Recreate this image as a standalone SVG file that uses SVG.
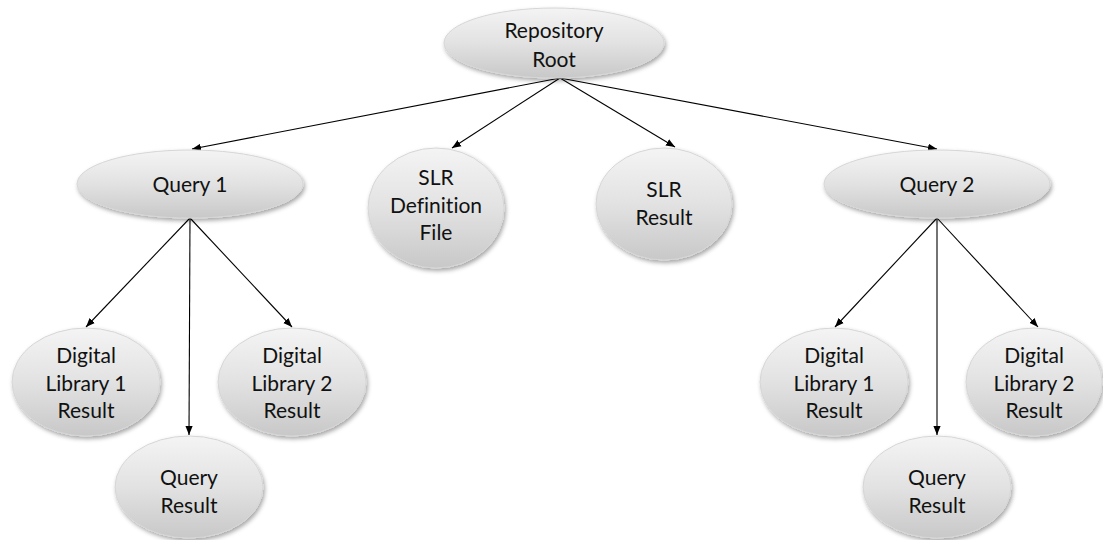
<svg xmlns="http://www.w3.org/2000/svg" width="1103" height="540" viewBox="0 0 1103 540">
  <defs>
    <linearGradient id="nodeFill" x1="0" y1="0" x2="0" y2="1">
      <stop offset="0" stop-color="#f4f4f4"/>
      <stop offset="0.5" stop-color="#e2e2e2"/>
      <stop offset="1" stop-color="#c8c8c8"/>
    </linearGradient>
    <filter id="shadow" x="-20%" y="-20%" width="140%" height="150%">
      <feDropShadow dx="1.5" dy="2.5" stdDeviation="2" flood-color="#000" flood-opacity="0.35"/>
    </filter>
    <marker id="arrow" viewBox="0 0 10 10" refX="10" refY="5" markerWidth="9" markerHeight="9" markerUnits="userSpaceOnUse" orient="auto">
      <path d="M0,1 L10,5 L0,9 Z" fill="#000"/>
    </marker>
  </defs>
  <style>
    .node ellipse { fill: url(#nodeFill); stroke: #d6d6d6; stroke-width: 1; filter: url(#shadow); }
    .node text { font-family: Lato, "Open Sans", "Liberation Sans", sans-serif; font-size: 21px; fill: #111; text-anchor: middle; font-variant-ligatures: none; }
    .edges line { stroke: #000; stroke-width: 1.1; marker-end: url(#arrow); }
  </style>

  <rect width="1103" height="540" fill="#fff"/>

  <g class="edges">
    <line x1="560" y1="78" x2="192" y2="149"/>
    <line x1="560" y1="78" x2="452" y2="148"/>
    <line x1="560" y1="78" x2="675" y2="147"/>
    <line x1="560" y1="78" x2="937" y2="149"/>
    <line x1="190" y1="218" x2="86" y2="327"/>
    <line x1="190" y1="218" x2="189" y2="435"/>
    <line x1="190" y1="218" x2="292" y2="327"/>
    <line x1="937" y1="218" x2="835" y2="327"/>
    <line x1="937" y1="218" x2="937" y2="435"/>
    <line x1="937" y1="218" x2="1038" y2="327"/>
  </g>

  <g id="root" class="node">
    <ellipse cx="554" cy="43" rx="110" ry="35"/>
    <text x="554" y="38">Repository</text>
    <text x="554" y="67">Root</text>
  </g>

  <g id="query1" class="node">
    <ellipse cx="190" cy="184" rx="113" ry="34"/>
    <text x="190" y="192">Query 1</text>
  </g>

  <g id="slr-definition" class="node">
    <ellipse cx="436" cy="208" rx="68" ry="60"/>
    <text x="436" y="185">SLR</text>
    <text x="436" y="213">Definition</text>
    <text x="436" y="240">File</text>
  </g>

  <g id="slr-result" class="node">
    <ellipse cx="664" cy="204" rx="68" ry="56"/>
    <text x="664" y="197">SLR</text>
    <text x="664" y="225">Result</text>
  </g>

  <g id="query2" class="node">
    <ellipse cx="937" cy="184" rx="113" ry="34"/>
    <text x="937" y="192">Query 2</text>
  </g>

  <g id="q1-dl1" class="node">
    <ellipse cx="86" cy="382" rx="74" ry="54"/>
    <text x="86" y="363">Digital</text>
    <text x="86" y="391">Library 1</text>
    <text x="86" y="418">Result</text>
  </g>

  <g id="q1-dl2" class="node">
    <ellipse cx="292" cy="382" rx="74" ry="54"/>
    <text x="292" y="363">Digital</text>
    <text x="292" y="391">Library 2</text>
    <text x="292" y="418">Result</text>
  </g>

  <g id="q1-result" class="node">
    <ellipse cx="189" cy="487" rx="74" ry="51"/>
    <text x="189" y="485">Query</text>
    <text x="189" y="513">Result</text>
  </g>

  <g id="q2-dl1" class="node">
    <ellipse cx="834" cy="382" rx="74" ry="54"/>
    <text x="834" y="363">Digital</text>
    <text x="834" y="391">Library 1</text>
    <text x="834" y="418">Result</text>
  </g>

  <g id="q2-dl2" class="node">
    <ellipse cx="1034" cy="382" rx="68" ry="54"/>
    <text x="1034" y="363">Digital</text>
    <text x="1034" y="391">Library 2</text>
    <text x="1034" y="418">Result</text>
  </g>

  <g id="q2-result" class="node">
    <ellipse cx="937" cy="487" rx="74" ry="51"/>
    <text x="937" y="485">Query</text>
    <text x="937" y="513">Result</text>
  </g>
</svg>
